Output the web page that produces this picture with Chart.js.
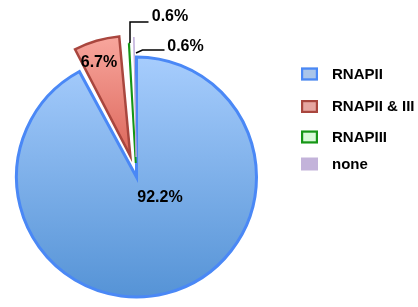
<!DOCTYPE html>
<html>
<head>
<meta charset="utf-8">
<script src="https://cdn.jsdelivr.net/npm/chart.js@4.4.1/dist/chart.umd.min.js"></script>
<style>
  html, body { margin: 0; padding: 0; background: #ffffff; }
  #wrap { width: 418px; height: 307px; position: relative; }
</style>
</head>
<body>
<div id="wrap"><canvas id="c" width="418" height="307"></canvas></div>
<script>
// ---- data ----
const categories = ['RNAPII', 'RNAPII & III', 'RNAPIII', 'none'];
const shares = [92.2, 6.7, 0.6, 0.6];

// ---- styles ----
const PIE_RADIUS = 120;
const borderColors = ['#4a88f6', '#a9463e', '#169616', '#bcaad8'];
const legendFills = ['#a9c5ea', '#e6a6a1', '#d8fad8', '#c3b3da'];
// Chart.js v4 translates an arc by offset/4
const sliceOffsets = [0, 88, 56, 80];
const sliceBorders = [3, 2.5, 2, 1];

function sliceFill(ctx) {
  const chart = ctx.chart;
  const c = chart.ctx;
  const i = ctx.dataIndex;
  const g = c.createLinearGradient(0, 56, 0, 298);
  if (i === 0) {
    g.addColorStop(0, '#a7cdfd');
    g.addColorStop(1, '#5593d6');
    return g;
  }
  if (i === 1) {
    g.addColorStop(0, '#f8a79e');
    g.addColorStop(0.5, '#dd675b');
    g.addColorStop(1, '#cc5448');
    return g;
  }
  if (i === 2) return '#d6f7d6';
  return '#c3b3da';
}

const FONT = '"Liberation Sans", Arial, Helvetica, sans-serif';

// keep exploded slices at the same radius as the rest of the pie
const radiusFix = {
  id: 'radiusFix',
  beforeDatasetsDraw(chart) {
    const meta = chart.getDatasetMeta(0);
    meta.data.forEach(arc => {
      const off = (arc.options.offset || 0) / 4;
      const fix = 1 - Math.sin(Math.min(Math.PI, arc.circumference || 0));
      arc.outerRadius = PIE_RADIUS - off * fix;
    });
  }
};

const labelPlugin = {
  id: 'pctLabels',
  afterDatasetsDraw(chart, args, opts) {
    const meta = chart.getDatasetMeta(0);
    const c = chart.ctx;
    const arc0 = meta.data[0];
    const cx = arc0.x, cy = arc0.y;
    c.save();
    c.font = 'bold 16px ' + FONT;
    c.fillStyle = '#000';
    c.textAlign = 'center';
    c.textBaseline = 'middle';
    opts.labels.forEach((l, i) => {
      const txt = shares[i].toFixed(1) + '%';
      if (l.line) {
        c.beginPath();
        c.strokeStyle = '#000';
        c.lineWidth = 1.5;
        l.line.forEach((p, k) => {
          if (k === 0) c.moveTo(cx + p[0], cy + p[1]);
          else c.lineTo(cx + p[0], cy + p[1]);
        });
        c.stroke();
      }
      c.fillText(txt, cx + l.dx, cy + l.dy);
    });
    c.restore();
  }
};

const legendPlugin = {
  id: 'sideLegend',
  afterDraw(chart, args, opts) {
    const c = chart.ctx;
    c.save();
    c.font = 'bold 15px ' + FONT;
    c.textBaseline = 'middle';
    c.textAlign = 'left';
    categories.forEach((name, i) => {
      const y = opts.rows[i];
      const x = opts.x;
      c.fillStyle = legendFills[i];
      c.fillRect(x, y - 6.5, 17, 13);
      if (i < 3) {
        c.strokeStyle = borderColors[i];
        c.lineWidth = 2.2;
        c.strokeRect(x + 1.1, y - 5.4, 14.8, 10.8);
      }
      c.fillStyle = '#000';
      c.fillText(name, opts.textX, y + 0.5);
    });
    c.restore();
  }
};

new Chart(document.getElementById('c'), {
  type: 'pie',
  data: {
    labels: categories,
    datasets: [{
      data: shares,
      backgroundColor: sliceFill,
      borderColor: borderColors,
      borderWidth: sliceBorders,
      borderJoinStyle: 'miter',
      offset: sliceOffsets,
      hoverOffset: 0
    }]
  },
  options: {
    responsive: false,
    animation: false,
    radius: PIE_RADIUS,
    layout: { padding: { left: 0, right: 145, top: 47, bottom: 0 } },
    plugins: {
      legend: { display: false },
      tooltip: { enabled: false },
      pctLabels: {
        labels: [
          { dx: 23.5, dy: 21 },
          { dx: -37.5, dy: -114 },
          { dx: 33.5, dy: -160, line: [[-6.5, -134], [-6.5, -155], [12, -155]] },
          { dx: 49, dy: -130, line: [[-0.5, -124], [6, -127], [28, -127]] }
        ]
      },
      sideLegend: { x: 301, textX: 332, rows: [74, 106.5, 137, 164] }
    }
  },
  plugins: [radiusFix, labelPlugin, legendPlugin]
});
</script>
</body>
</html>
